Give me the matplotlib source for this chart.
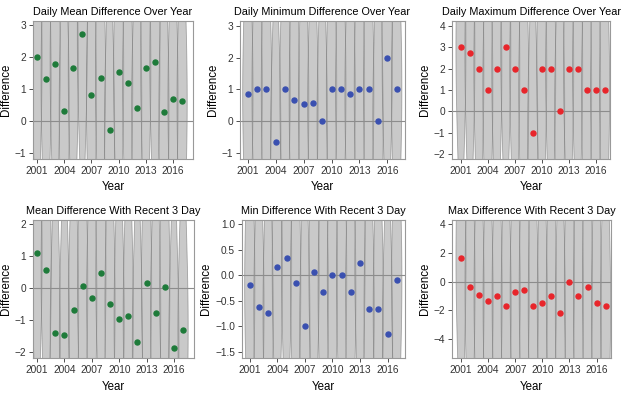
import numpy as np
import matplotlib.pyplot as plt

plt.rcParams['font.family'] = ['Liberation Sans', 'DejaVu Sans']

years = np.arange(2001, 2018)

daily_mean = [2.0, 1.3, 1.78, 0.3, 1.65, 2.7, 0.8, 1.33, -0.27, 1.52, 1.18, 0.4, 1.65, 1.85, 0.27, 0.67, 0.63]
daily_min = [0.85, 1.0, 1.0, -0.65, 1.0, 0.65, 0.55, 0.57, 0.0, 1.0, 1.0, 0.85, 1.0, 1.0, 0.0, 2.0, 1.0]
daily_max = [3.0, 2.75, 2.0, 1.0, 2.0, 3.0, 2.0, 1.0, -1.0, 2.0, 2.0, 0.0, 2.0, 2.0, 1.0, 1.0, 1.0]
recent_mean = [1.08, 0.55, -1.42, -1.47, -0.7, 0.07, -0.33, 0.47, -0.5, -0.97, -0.87, -1.7, 0.15, -0.77, 0.02, -1.88, -1.3]
recent_min = [-0.2, -0.63, -0.73, 0.16, 0.33, -0.15, -1.0, 0.07, -0.33, 0.0, 0.0, -0.33, 0.23, -0.67, -0.67, -1.15, -0.1]
recent_max = [1.67, -0.35, -0.9, -1.35, -1.0, -1.7, -0.7, -0.55, -1.7, -1.5, -1.0, -2.15, 0.0, -1.0, -0.35, -1.45, -1.67]

titles = ["Daily Mean Difference Over Year", "Daily Minimum Difference Over Year",
          "Daily Maximum Difference Over Year", "Mean Difference With Recent 3 Day",
          "Min Difference With Recent 3 Day", "Max Difference With Recent 3 Day"]
series = [daily_mean, daily_min, daily_max, recent_mean, recent_min, recent_max]
colors = ["#1e7b3a", "#3a50b0", "#e8252b", "#1e7b3a", "#3a50b0", "#e8252b"]
yticks = [[-1, 0, 1, 2, 3], [-1, 0, 1, 2, 3], [-2, -1, 0, 1, 2, 3, 4],
          [-2, -1, 0, 1, 2], [-1.5, -1.0, -0.5, 0.0, 0.5, 1.0], [-4, -2, 0, 2, 4]]
ylims = [(-1.19, 3.12), (-1.19, 3.15), (-2.23, 4.23),
         (-2.19, 2.12), (-1.62, 1.08), (-5.3, 4.28)]
xlims = [(2000.55, 2018.2), (2000.15, 2017.9), (2000.0, 2017.6),
         (2000.55, 2018.2), (2000.15, 2017.9), (2000.0, 2017.6)]
# axes boxes in pixels: left, top, right, bottom
boxes = [(33, 21, 193, 159), (240, 21, 405, 159), (452, 21, 610, 159),
         (33, 220, 194, 358), (242, 220, 405, 358), (452, 220, 611, 358)]

W, H = 621, 395
fig = plt.figure(figsize=(W / 100, H / 100), dpi=100)

for i in range(6):
    l, t, r, b = boxes[i]
    ax = fig.add_axes([l / W, (H - b) / H, (r - l) / W, (b - t) / H])
    lo, hi = ylims[i]
    span = hi - lo
    yy = np.linspace(lo - span, hi + span, 300)
    for x, m in zip(years, series[i]):
        half = 0.56 * np.exp(-0.5 * ((yy - m) / (0.8 * span)) ** 2)
        ax.fill_betweenx(yy, x - half, x + half, facecolor='#a6a6a6', alpha=0.6,
                         edgecolor='#767676', linewidth=0.6, zorder=1)
    ax.axhline(0, color='#8c8c8c', lw=0.8, zorder=2)
    ax.plot(years, series[i], 'o', color=colors[i], ms=3.6, mec=colors[i], zorder=3)
    ax.set_xlim(*xlims[i])
    ax.set_ylim(lo, hi)
    ax.set_xticks(years[::3])
    ax.set_yticks(yticks[i])
    if i == 4:
        ax.set_yticklabels([f"{v:.1f}".replace('-', '\u2212') for v in yticks[i]])
    ax.tick_params(labelsize=7.3, colors='#333333', length=3, width=0.6, pad=2)
    for sp in ax.spines.values():
        sp.set_color('#999999')
        sp.set_linewidth(0.8)
    ax.set_title(titles[i], fontsize=7.8, pad=4)
    ax.set_xlabel("Year", fontsize=8.3, labelpad=4)
    ax.set_ylabel("Difference", fontsize=8.3, labelpad=2)

fig.savefig("out.png", dpi=100)
